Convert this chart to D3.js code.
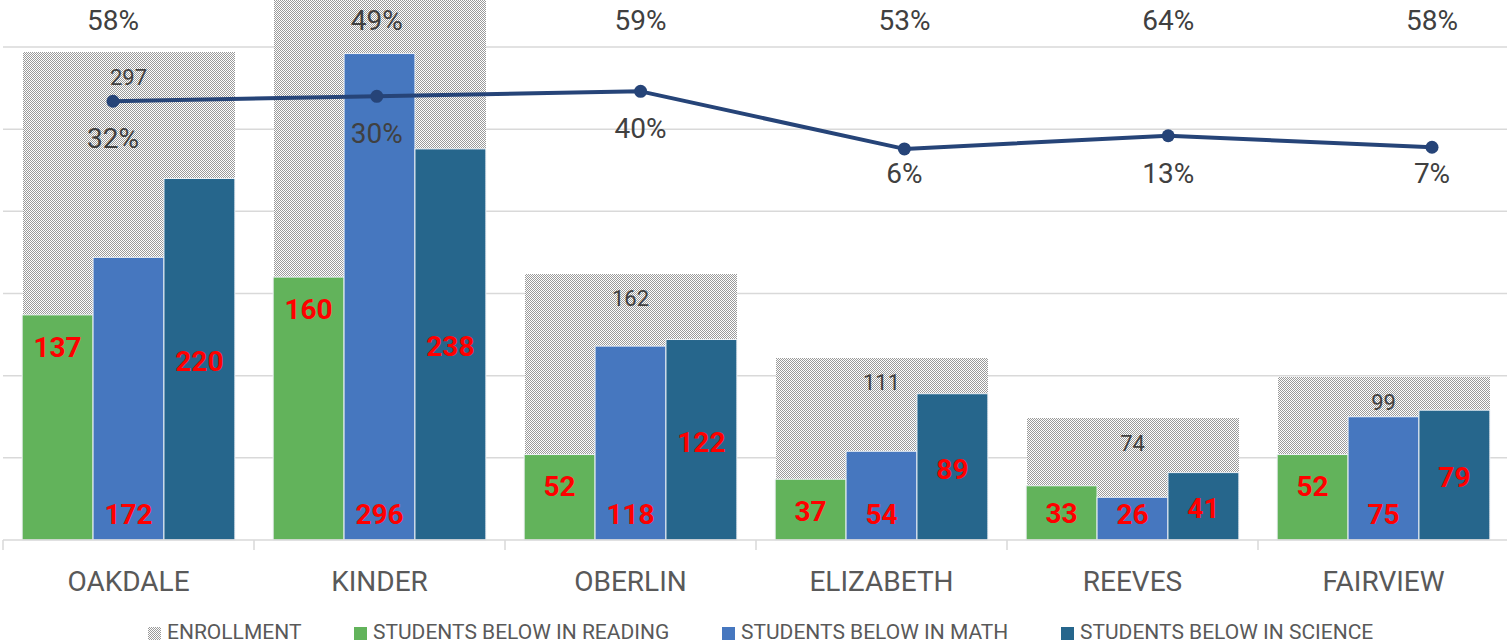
<!DOCTYPE html>
<html>
<head>
<meta charset="utf-8">
<script src="https://cdn.jsdelivr.net/npm/d3@7"></script>
<style>
  html, body { margin: 0; padding: 0; background: #fff; }
  svg { display: block; font-family: Roboto, "Noto Sans", sans-serif; }
</style>
</head>
<body>
<svg id="chart" width="1507" height="641"></svg>
<script>
// school names along the bottom
var schools = ["OAKDALE", "KINDER", "OBERLIN", "ELIZABETH", "REEVES", "FAIRVIEW"];

// bar series
var enrollment   = [297, 604, 162, 111, 74, 99];
var belowReading = [137, 160, 52, 37, 33, 52];
var belowMath    = [172, 296, 118, 54, 26, 75];
var belowScience = [220, 238, 122, 89, 41, 79];

// line series (read against the left scale)
var trend = [267, 270, 273, 238, 246, 239];

// percentage labels
var topPct  = ["58%", "49%", "59%", "53%", "64%", "58%"];
var linePct = ["32%", "30%", "40%", "6%", "13%", "7%"];

var yTicks = [50, 100, 150, 200, 250, 300];

var seriesNames = ["STUDENTS BELOW IN READING", "STUDENTS BELOW IN MATH", "STUDENTS BELOW IN SCIENCE"];
var seriesColors = ["#62b35b", "#4677bf", "#26668c"];
var seriesData = [belowReading, belowMath, belowScience];

var W = 1507, H = 641;
var svg = d3.select("#chart");

// pattern for enrollment
var defs = svg.append("defs");
var pat = defs.append("pattern")
  .attr("id", "checker")
  .attr("patternUnits", "userSpaceOnUse")
  .attr("width", 2).attr("height", 2);
pat.append("rect").attr("width", 2).attr("height", 2).attr("fill", "#ffffff");
pat.append("rect").attr("x", 0).attr("y", 0).attr("width", 1).attr("height", 1).attr("fill", "#9a9a9a");
pat.append("rect").attr("x", 1).attr("y", 1).attr("width", 1).attr("height", 1).attr("fill", "#9a9a9a");

var x0 = d3.scaleBand().domain(schools).range([3, 1509]).padding(0);
var x1 = d3.scaleBand().domain([0, 1, 2]).range([0, x0.bandwidth()]).paddingOuter(0.27).paddingInner(0);
var xLine = d3.scalePoint().domain(schools).range([113, 1432]);
var y = d3.scaleLinear().domain([0, 300]).range([540, 47]);

// gridlines
svg.append("g").selectAll("line")
  .data(yTicks)
  .enter().append("line")
  .attr("x1", 3).attr("x2", W)
  .attr("y1", function(d) { return y(d); })
  .attr("y2", function(d) { return y(d); })
  .attr("stroke", "#d9d9d9")
  .attr("stroke-width", 1.5);

// enrollment bars (behind)
var eLeft = x1(0), eRight = x1(2) + x1.bandwidth();
svg.append("g").selectAll("rect")
  .data(schools)
  .enter().append("rect")
  .attr("x", function(d) { return Math.round(x0(d) + eLeft + 1); })
  .attr("width", Math.round(eRight - eLeft - 1))
  .attr("y", function(d, i) { return Math.round(y(enrollment[i])); })
  .attr("height", function(d, i) { return Math.round(y(0) - y(enrollment[i])); })
  .attr("fill", "url(#checker)");

// student bars
seriesData.forEach(function(vals, k) {
  svg.append("g").selectAll("rect")
    .data(schools)
    .enter().append("rect")
    .attr("x", function(d) { return x0(d) + x1(k); })
    .attr("width", x1.bandwidth())
    .attr("y", function(d, i) { return y(vals[i]); })
    .attr("height", function(d, i) { return y(0) - y(vals[i]); })
    .attr("fill", seriesColors[k])
    .attr("stroke", "#eef2f6")
    .attr("stroke-width", 1);
});

// x axis
var axis = svg.append("g");
axis.append("line")
  .attr("x1", 3).attr("x2", W)
  .attr("y1", y(0)).attr("y2", y(0))
  .attr("stroke", "#d9d9d9").attr("stroke-width", 1.5);
var bounds = schools.map(function(d) { return x0(d); }).concat([x0.range()[1]]);
axis.selectAll("line.tick")
  .data(bounds)
  .enter().append("line")
  .classed("tick", true)
  .attr("x1", function(d) { return d; }).attr("x2", function(d) { return d; })
  .attr("y1", y(0)).attr("y2", y(0) + 10)
  .attr("stroke", "#d9d9d9").attr("stroke-width", 1.5);
axis.selectAll("text")
  .data(schools)
  .enter().append("text")
  .attr("x", function(d) { return x0(d) + x0.bandwidth() / 2; })
  .attr("y", 581)
  .attr("dy", "0.35em")
  .attr("text-anchor", "middle")
  .attr("font-size", 28)
  .attr("fill", "#595959")
  .text(function(d) { return d; });

// line
var lineGen = d3.line()
  .x(function(d, i) { return xLine(schools[i]); })
  .y(function(d) { return y(d); });
svg.append("path")
  .datum(trend)
  .attr("d", lineGen)
  .attr("fill", "none")
  .attr("stroke", "#264478")
  .attr("stroke-width", 4)
  .attr("stroke-linejoin", "round");
svg.append("g").selectAll("circle")
  .data(trend)
  .enter().append("circle")
  .attr("cx", function(d, i) { return xLine(schools[i]); })
  .attr("cy", function(d) { return y(d); })
  .attr("r", 6.5)
  .attr("fill", "#264478");

// enrollment labels
svg.append("g").selectAll("text")
  .data(enrollment)
  .enter().append("text")
  .attr("x", function(d, i) { return x0(schools[i]) + x0.bandwidth() / 2; })
  .attr("y", function(d) { return y(d) + 25; })
  .attr("dy", "0.35em")
  .attr("text-anchor", "middle")
  .attr("font-size", 22)
  .attr("fill", "#404040")
  .text(function(d) { return d; });

// red value labels
function redLabels(vals, k, ypos) {
  svg.append("g").selectAll("text")
    .data(vals)
    .enter().append("text")
    .attr("x", function(d, i) { return x0(schools[i]) + x1(k) + x1.bandwidth() / 2; })
    .attr("y", ypos)
    .attr("dy", "0.35em")
    .attr("text-anchor", "middle")
    .attr("font-size", 28)
    .attr("font-weight", "bold")
    .attr("fill", "#ff0000")
    .text(function(d) { return d; });
}
redLabels(belowReading, 0, function(d) { return Math.min(y(d) + 32, y(0) - 27); });
redLabels(belowMath, 1, function() { return y(0) - 26; });
redLabels(belowScience, 2, function(d) { return (y(d) + y(0)) / 2 + 2; });

// percentage labels
svg.append("g").selectAll("text")
  .data(topPct)
  .enter().append("text")
  .attr("x", function(d, i) { return xLine(schools[i]); })
  .attr("y", 20)
  .attr("dy", "0.35em")
  .attr("text-anchor", "middle")
  .attr("font-size", 28)
  .attr("fill", "#404040")
  .text(function(d) { return d; });

svg.append("g").selectAll("text")
  .data(linePct)
  .enter().append("text")
  .attr("x", function(d, i) { return xLine(schools[i]); })
  .attr("y", function(d, i) { return Math.min(y(trend[i]) + 37, 173); })
  .attr("dy", "0.35em")
  .attr("text-anchor", "middle")
  .attr("font-size", 28)
  .attr("fill", "#404040")
  .text(function(d) { return d; });

// legend
var legendItems = [{ name: "ENROLLMENT", fill: "url(#checker)" }].concat(
  seriesNames.map(function(n, k) { return { name: n, fill: seriesColors[k] }; }));
var legend = svg.append("g");
var items = legend.selectAll("g")
  .data(legendItems)
  .enter().append("g");
items.append("rect")
  .attr("width", 13).attr("height", 13)
  .attr("y", 627)
  .attr("fill", function(d) { return d.fill; });
items.append("text")
  .attr("x", 19)
  .attr("y", 632)
  .attr("dy", "0.35em")
  .attr("font-size", 21)
  .attr("fill", "#595959")
  .text(function(d) { return d.name; });
var widths = [];
items.each(function() { widths.push(19 + d3.select(this).select("text").node().getComputedTextLength()); });
var gap = 53;
var total = d3.sum(widths) + gap * (widths.length - 1);
var cx = Math.round(761 - total / 2);
items.attr("transform", function(d, i) {
  var t = "translate(" + cx + ",0)";
  cx = Math.round(cx + widths[i] + gap);
  return t;
});
</script>
</body>
</html>
